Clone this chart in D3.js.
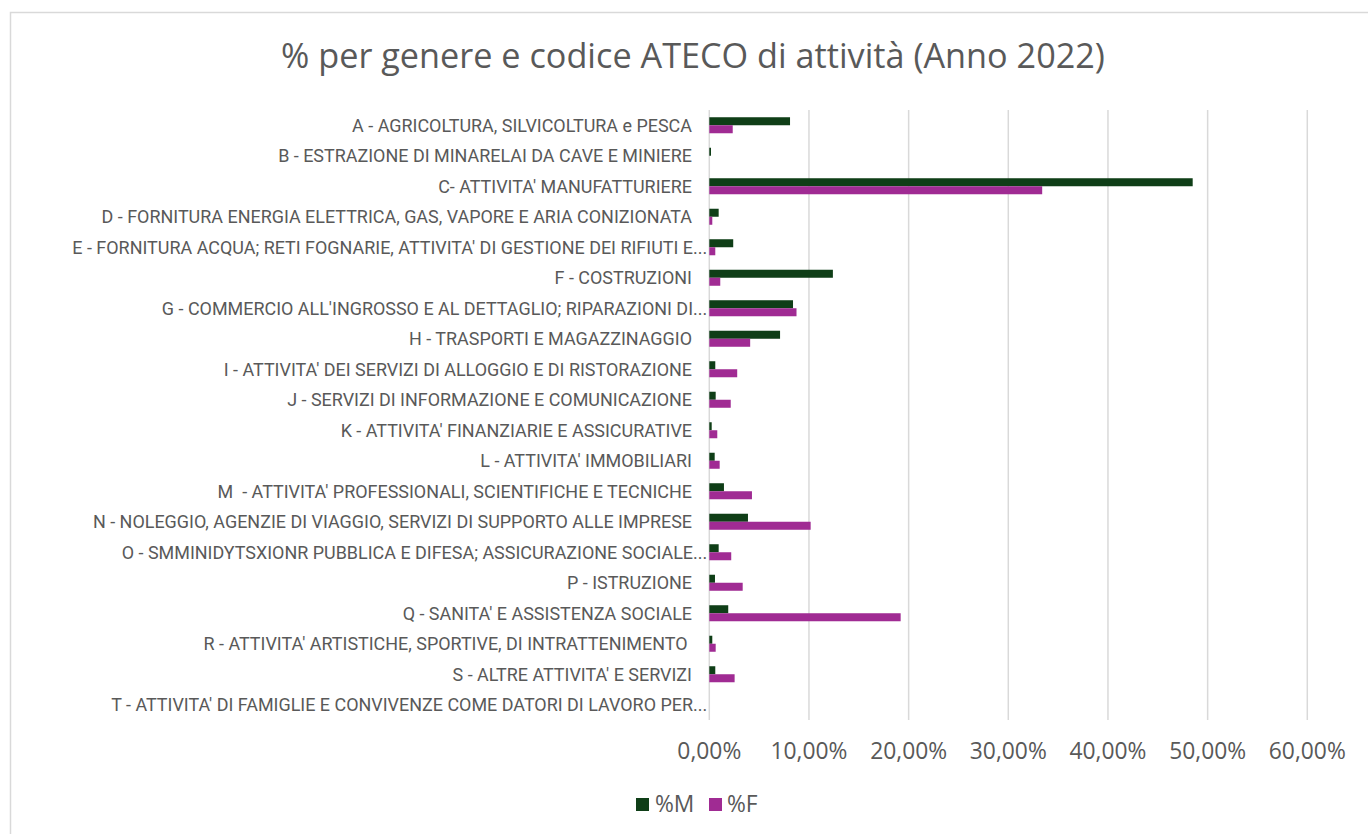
<!DOCTYPE html>
<html>
<head>
<meta charset="utf-8">
<script src="https://cdn.jsdelivr.net/npm/d3@7"></script>
<style>
  html, body { margin: 0; padding: 0; background: #fff; }
  svg { display: block; }
  text { font-family: "Open Sans", "Liberation Sans", sans-serif; fill: #595959; }
  .cat { font-family: Roboto, "Open Sans", sans-serif; }
</style>
</head>
<body>
<svg id="chart" width="1368" height="834"></svg>
<script>
const categories = [
  "A - AGRICOLTURA, SILVICOLTURA e PESCA",
  "B - ESTRAZIONE DI MINARELAI DA CAVE E MINIERE",
  "C- ATTIVITA' MANUFATTURIERE",
  "D - FORNITURA ENERGIA ELETTRICA, GAS, VAPORE E ARIA CONIZIONATA",
  "E - FORNITURA ACQUA; RETI FOGNARIE, ATTIVITA' DI GESTIONE DEI RIFIUTI E...",
  "F - COSTRUZIONI",
  "G - COMMERCIO ALL'INGROSSO E AL DETTAGLIO; RIPARAZIONI DI...",
  "H - TRASPORTI E MAGAZZINAGGIO",
  "I - ATTIVITA' DEI SERVIZI DI ALLOGGIO E DI RISTORAZIONE",
  "J - SERVIZI DI INFORMAZIONE E COMUNICAZIONE",
  "K - ATTIVITA' FINANZIARIE E ASSICURATIVE",
  "L - ATTIVITA' IMMOBILIARI",
  "M  - ATTIVITA' PROFESSIONALI, SCIENTIFICHE E TECNICHE",
  "N - NOLEGGIO, AGENZIE DI VIAGGIO, SERVIZI DI SUPPORTO ALLE IMPRESE",
  "O - SMMINIDYTSXIONR PUBBLICA E DIFESA; ASSICURAZIONE SOCIALE...",
  "P - ISTRUZIONE",
  "Q - SANITA' E ASSISTENZA SOCIALE",
  "R - ATTIVITA' ARTISTICHE, SPORTIVE, DI INTRATTENIMENTO ",
  "S - ALTRE ATTIVITA' E SERVIZI",
  "T - ATTIVITA' DI FAMIGLIE E CONVIVENZE COME DATORI DI LAVORO PER..."
];
const seriesNames = ["%M", "%F"];
const valuesM = [8.1, 0.17, 48.5, 0.94, 2.4, 12.4, 8.4, 7.1, 0.6, 0.64, 0.24, 0.54, 1.47, 3.88, 0.94, 0.57, 1.9, 0.3, 0.6, 0.0];
const valuesF = [2.35, 0.0, 33.4, 0.3, 0.6, 1.1, 8.75, 4.1, 2.8, 2.15, 0.8, 1.04, 4.28, 10.17, 2.2, 3.35, 19.2, 0.64, 2.54, 0.0];
const xTicks = [0, 10, 20, 30, 40, 50, 60];
const title = "% per genere e codice ATECO di attività (Anno 2022)";

const colors = { "%M": "#0f3e17", "%F": "#a02b93" };

const svg = d3.select("#chart");

// frame
svg.append("rect")
  .attr("x", 10.5).attr("y", 12.5)
  .attr("width", 1400).attr("height", 900)
  .attr("fill", "none").attr("stroke", "#d9d9d9").attr("stroke-width", 1.5);

const x = d3.scaleLinear().domain([0, 60]).range([709.3, 1307.3]);
const y = d3.scaleBand().domain(categories).range([110, 720])
  .paddingInner(0.475).paddingOuter(0.2375);
const ySub = d3.scaleBand().domain(seriesNames).range([0, y.bandwidth()]);

function fit(sel, target) {
  const node = sel.node();
  const fs = parseFloat(sel.attr("font-size"));
  const w = node.getComputedTextLength();
  sel.attr("font-size", (fs * target / w).toFixed(2));
}

// title
const t = svg.append("text")
  .attr("x", 693).attr("y", 68)
  .attr("text-anchor", "middle")
  .attr("font-size", 28)
  .text(title);
fit(t, 824);

// gridlines
svg.append("g").selectAll("line").data(xTicks).join("line")
  .attr("x1", d => x(d)).attr("x2", d => x(d))
  .attr("y1", 110).attr("y2", 720)
  .attr("stroke", "#d9d9d9").attr("stroke-width", 1.5);

// x tick labels
const tickG = svg.append("g");
const tickTexts = tickG.selectAll("text").data(xTicks).join("text")
  .attr("x", d => x(d)).attr("y", 759)
  .attr("text-anchor", "middle")
  .attr("font-size", 20)
  .text(d => d3.format(".2f")(d).replace(".", ",") + "%");
{
  const last = tickTexts.filter(d => d === 60);
  const w = last.node().getComputedTextLength();
  tickTexts.attr("font-size", (20 * 77 / w).toFixed(2));
}

// category labels
const labG = svg.append("g");
const labels = labG.selectAll("text").data(categories).join("text")
  .attr("class", "cat")
  .attr("x", 692)
  .attr("y", d => y(d) + y.bandwidth() / 2)
  .attr("dy", "0.35em")
  .attr("text-anchor", "end")
  .attr("font-size", 15)
  .attr("xml:space", "preserve")
  .style("white-space", "pre")
  .text(d => d);
{
  const ref = labels.filter((d, i) => i === 3);
  const w = ref.node().getComputedTextLength();
  const fs = (15 * 591 / w).toFixed(2);
  labels.attr("font-size", fs);
  // truncated labels: the ellipsis hangs past the label edge
  const probe = labG.append("text").attr("class", "cat").attr("font-size", fs).text("...");
  const dotsW = probe.node().getComputedTextLength();
  probe.remove();
  labels.filter(d => d.endsWith("...")).attr("x", 692 + dotsW + 1);
}

// bars
const groups = svg.append("g").selectAll("g").data(categories).join("g")
  .attr("transform", d => `translate(0,${y(d)})`);
groups.selectAll("rect")
  .data((d, i) => [
    { s: "%M", v: valuesM[i] },
    { s: "%F", v: valuesF[i] }
  ])
  .join("rect")
  .attr("x", x(0))
  .attr("y", d => ySub(d.s))
  .attr("width", d => Math.max(0, x(d.v) - x(0)))
  .attr("height", ySub.bandwidth())
  .attr("fill", d => colors[d.s]);

// legend
const legend = svg.append("g");
const legItems = [
  { s: "%M", rx: 636, tx: 655 },
  { s: "%F", rx: 709, tx: 727 }
];
legItems.forEach(it => {
  legend.append("rect")
    .attr("x", it.rx).attr("y", 798)
    .attr("width", 13).attr("height", 13)
    .attr("fill", colors[it.s]);
  legend.append("text")
    .attr("x", it.tx).attr("y", 812)
    .attr("font-size", tickTexts.attr("font-size"))
    .text(it.s);
});
</script>
</body>
</html>
